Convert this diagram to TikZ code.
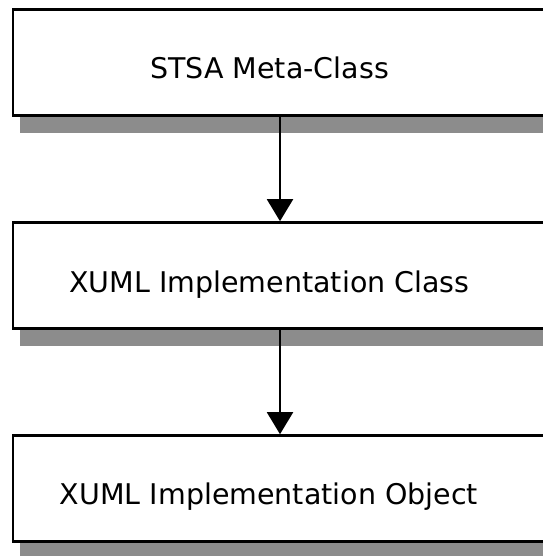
\documentclass[tikz,border=0pt]{standalone}
\usepackage{fontspec}
\setmainfont{DejaVu Sans}
\usetikzlibrary{arrows.meta,shadows}
\definecolor{shadowgray}{HTML}{8C8C8C}
\begin{document}
\begin{tikzpicture}[x=1pt,y=1pt,
  boxshape/.style={draw=black,line width=2.8pt,fill=white,rectangle,
    minimum width=535pt,minimum height=106pt,inner sep=0pt,
    general shadow={shadow xshift=7pt,shadow yshift=-17pt,fill=shadowgray,draw=none}},
  boxtext/.style={anchor=base,inner sep=0pt,font=\fontsize{28.5}{34}\selectfont},
  flow/.style={line width=2pt,-{Triangle[length=22pt,width=26pt]}}]
\useasboundingbox (0,0) rectangle (542,-556);
\node[boxshape] (b1) at (280.5,-62.6) {};
\node[boxshape] (b2) at (280.5,-275.6) {};
\node[boxshape] (b3) at (280.5,-488.6) {};
\node[boxtext] (t1) at (269.5,-79) {STSA Meta-Class};
\node[boxtext] (t2) at (269.5,-292) {XUML Implementation Class};
\node[boxtext] (t3) at (269,-504) {XUML Implementation Object};
\draw[flow] (b1.south -| 280,0) -- (b2.north -| 280,0);
\draw[flow] (b2.south -| 280,0) -- (b3.north -| 280,0);
\end{tikzpicture}
\end{document}
